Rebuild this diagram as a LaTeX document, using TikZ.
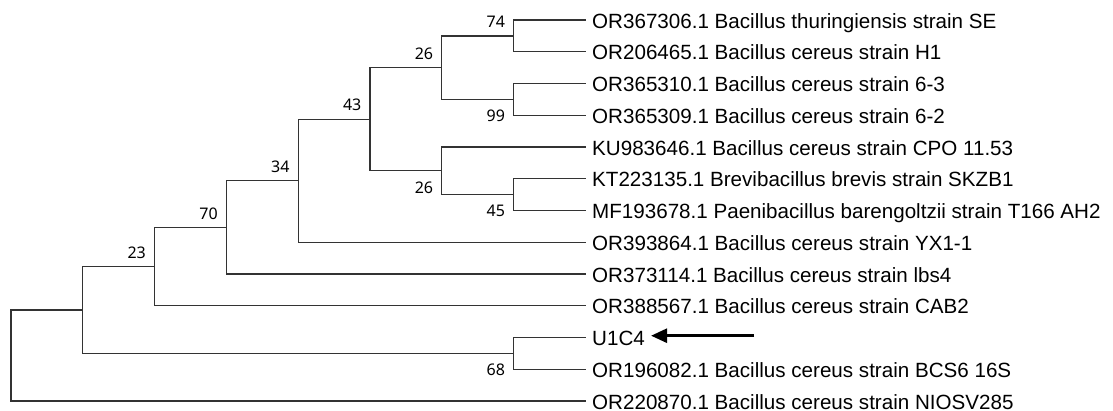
\documentclass[tikz,border=0pt]{standalone}
\usepackage{fontspec}
\usetikzlibrary{arrows.meta}
\newfontfamily\leaffont{Liberation Sans}
\newfontfamily\bsfont{Noto Sans}
\begin{document}
\begin{tikzpicture}[x=1pt,y=1pt,
  branch/.style={draw=black!80, line width=1.3pt},
  leaf/.style={anchor=west, inner xsep=6pt, inner ysep=0pt, text height=14.8pt, text depth=0pt, yshift=-0.6pt, font=\leaffont\fontsize{20.6}{24}\selectfont},
  bsup/.style={anchor=east, inner sep=0pt, font=\bsfont\fontsize{16}{18}\selectfont, yshift=14pt, xshift=-8.5pt},
  bsdown/.style={anchor=east, inner sep=0pt, font=\bsfont\fontsize{16}{18}\selectfont, yshift=-16.7pt, xshift=-8.5pt},
  pointer/.style={line width=2.8pt, -{Triangle[length=16pt,width=14pt]}}]
\useasboundingbox (0,0) rectangle (1113,-410);
% internal nodes
\coordinate (root) at (11,-355.5);
\coordinate (nA)   at (82.8,-310);
\coordinate (n23)  at (154.6,-266.6);
\coordinate (n70)  at (226.4,-227.4);
\coordinate (n34)  at (298.2,-180.7);
\coordinate (n43)  at (370,-119.2);
\coordinate (n26a) at (441.8,-67.6);
\coordinate (n74)  at (513.6,-35.9);
\coordinate (n99)  at (513.6,-99.4);
\coordinate (n26b) at (441.8,-170.8);
\coordinate (n45)  at (513.6,-194.6);
\coordinate (n68)  at (513.6,-353.4);
% leaves
\node[leaf] (l1)  at (586,-20)    {OR367306.1 Bacillus thuringiensis strain SE};
\node[leaf] (l2)  at (586,-51.75) {OR206465.1 Bacillus cereus strain H1};
\node[leaf] (l3)  at (586,-83.5)  {OR365310.1 Bacillus cereus strain 6-3};
\node[leaf] (l4)  at (586,-115.25){OR365309.1 Bacillus cereus strain 6-2};
\node[leaf] (l5)  at (586,-147)   {KU983646.1 Bacillus cereus strain CPO 11.53};
\node[leaf] (l6)  at (586,-178.75){KT223135.1 Brevibacillus brevis strain SKZB1};
\node[leaf] (l7)  at (586,-210.5) {MF193678.1 Paenibacillus barengoltzii strain T166 AH2};
\node[leaf] (l8)  at (586,-242.25){OR393864.1 Bacillus cereus strain YX1-1};
\node[leaf] (l9)  at (586,-274)   {OR373114.1 Bacillus cereus strain lbs4};
\node[leaf] (l10) at (586,-305.75){OR388567.1 Bacillus cereus strain CAB2};
\node[leaf] (l11) at (586,-337.5) {U1C4};
\node[leaf] (l12) at (586,-369.25){OR196082.1 Bacillus cereus strain BCS6 16S};
\node[leaf] (l13) at (586,-401)   {OR220870.1 Bacillus cereus strain NIOSV285};
% tips of the leaf branches
\foreach \i/\y in {1/20,2/51.75,3/83.5,4/115.25,5/147,6/178.75,7/210.5,8/242.25,9/274,10/305.75,11/337.5,12/369.25,13/401}
  \coordinate (t\i) at (586,-\y);
% branches
\draw[branch] (root) |- (nA);
\draw[branch] (root) |- (t13);
\draw[branch] (nA) |- (n23);
\draw[branch] (nA) |- (n68);
\draw[branch] (n23) |- (n70);
\draw[branch] (n23) |- (t10);
\draw[branch] (n70) |- (n34);
\draw[branch] (n70) |- (t9);
\draw[branch] (n34) |- (n43);
\draw[branch] (n34) |- (t8);
\draw[branch] (n43) |- (n26a);
\draw[branch] (n43) |- (n26b);
\draw[branch] (n26a) |- (n74);
\draw[branch] (n26a) |- (n99);
\draw[branch] (n74) |- (t1);
\draw[branch] (n74) |- (t2);
\draw[branch] (n99) |- (t3);
\draw[branch] (n99) |- (t4);
\draw[branch] (n26b) |- (t5);
\draw[branch] (n26b) |- (n45);
\draw[branch] (n45) |- (t6);
\draw[branch] (n45) |- (t7);
\draw[branch] (n68) |- (t11);
\draw[branch] (n68) |- (t12);
% bootstrap values
\node[bsup]   (b74)  at (n74)  {74};
\node[bsup]   (b26a) at (n26a) {26};
\node[bsdown] (b99)  at (n99)  {99};
\node[bsup]   (b43)  at (n43)  {43};
\node[bsdown] (b26b) at (n26b) {26};
\node[bsdown] (b45)  at (n45)  {45};
\node[bsup]   (b34)  at (n34)  {34};
\node[bsup]   (b70)  at (n70)  {70};
\node[bsup]   (b23)  at (n23)  {23};
\node[bsdown] (b68)  at (n68)  {68};
% arrow
\coordinate (atail) at (754,-335.7);
\draw[pointer] (atail) -- (atail -| l11.east);
\end{tikzpicture}
\end{document}
